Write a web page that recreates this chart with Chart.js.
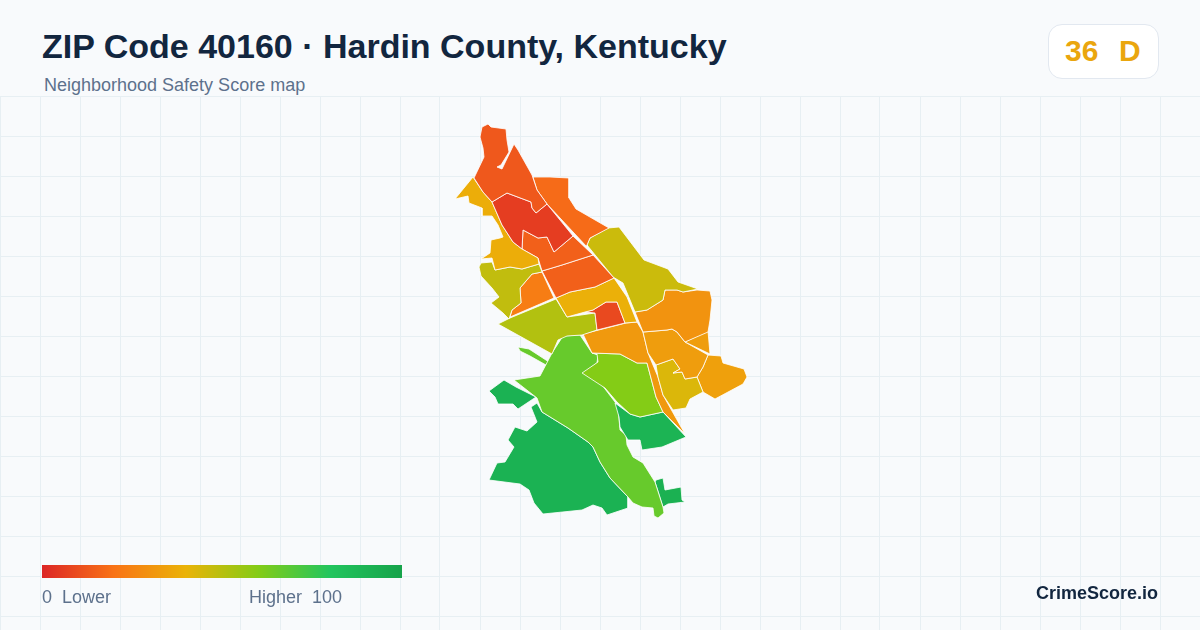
<!DOCTYPE html>
<html>
<head>
<meta charset="utf-8">
<title>ZIP Code 40160 · Hardin County, Kentucky</title>
<script src="https://cdn.jsdelivr.net/npm/chart.js@4"></script>
<style>
  html, body { margin: 0; padding: 0; background: #f8fafc; }
  body { position: relative; width: 1200px; height: 630px; overflow: hidden; font-family: "Liberation Sans", sans-serif; }
  #wrap { position: absolute; left: 0; top: 96px; width: 1200px; height: 534px; }
  .txt { position: absolute; white-space: pre; line-height: 1; }
  #title { left: 42px; top: 29px; font-size: 34px; font-weight: 700; color: #12263f; }
  #sub { left: 44px; top: 76px; font-size: 18px; color: #5d718c; }
  #badge { position: absolute; left: 1048px; top: 24px; width: 109px; height: 53px; background: #fff; border: 1px solid #e2e8f0; border-radius: 14px; }
  #score { left: 1065px; top: 36px; font-size: 30px; font-weight: 700; color: #eaa60e; word-spacing: 2px; }
  #bar { position: absolute; left: 42px; top: 565px; width: 360px; height: 13px; }
  #low { left: 42px; top: 588px; font-size: 18px; color: #5d718c; }
  #high { left: 249px; top: 588px; font-size: 18px; color: #5d718c; }
  #brand { right: 42px; top: 584px; font-size: 18px; font-weight: 700; color: #12263f; }
</style>
</head>
<body>
<div id="wrap"><canvas id="chart" width="1200" height="534"></canvas></div>
<div class="txt" id="title">ZIP Code 40160 · Hardin County, Kentucky</div>
<div class="txt" id="sub">Neighborhood Safety Score map</div>
<div id="badge"></div>
<div class="txt" id="score">36  D</div>
<div id="bar"></div>
<div class="txt" id="low">0  Lower</div>
<div class="txt" id="high">Higher  100</div>
<div class="txt" id="brand">CrimeScore.io</div>
<script>
// colour ramp of the legend
const rampStops = [0, 20, 40, 60, 80, 100]
const rampColors = ['#dc2626', '#f97316', '#eab308', '#84cc16', '#22c55e', '#16a34a']

// grid lines
const gridColumns = [0, 40, 80, 120, 160, 200, 240, 280, 320, 360, 400, 440, 480, 520, 560, 600, 640, 680, 720, 760, 800, 840, 880, 920, 960, 1000, 1040, 1080, 1120, 1160]
const gridRows = [96, 136, 176, 216, 256, 296, 336, 376, 416, 456, 496, 536, 576, 616]

// tract outlines
const northEnd = [[488,124],[491,127],[506,129],[507,140],[509,152],[501,165],[497,167],[502,169],[514,144],[518,150],[532,175],[537,190],[547,204],[536,213],[532,208],[531,202],[507,193],[492,202],[483,192],[474,178],[484,157],[483,148],[480,137],[482,127]]
const northEast = [[533,177],[550,177],[569,178],[569,198],[576,209],[609,228],[590,238],[587,245],[587,247],[547,204],[537,190]]
const redCore = [[492,202],[507,193],[531,202],[532,208],[536,213],[547,204],[573,236],[554,252],[547,237],[538,238],[523,230],[522,249],[513,242],[502,225]]
const westStrip = [[473,177],[455,199],[468,196],[469,203],[482,208],[482,216],[492,216],[498,225],[503,237],[500,238],[491,240],[490,253],[481,259],[492,258],[495,270],[510,267],[522,269],[539,264],[538,258],[522,249],[513,242],[502,225],[492,202],[483,192]]
const westOlive = [[481,263],[492,262],[495,270],[510,267],[522,269],[539,264],[542,272],[532,274],[520,288],[521,303],[512,310],[509,319],[503,313],[491,303],[499,297],[492,288],[481,276],[479,267]]
const westOrange = [[542,272],[554,298],[510,317],[512,310],[521,303],[520,288],[532,274]]
const midNorth = [[523,230],[538,238],[547,237],[554,252],[573,236],[593,255],[562,265],[542,271],[538,258],[522,249]]
const midBlock = [[542,271],[562,265],[593,255],[614,278],[595,287],[570,292],[556,298]]
const midYellow = [[556,298],[570,292],[595,287],[614,278],[627,297],[637,322],[625,323],[617,302],[606,302],[593,310],[585,312],[567,317]]
const redBlock = [[585,312],[593,310],[606,302],[617,302],[625,323],[597,330],[595,313]]
const westLime = [[498,324],[510,318],[556,299],[567,317],[595,313],[597,330],[582,335],[567,336],[558,340],[552,354]]
const eastOlive = [[619,227],[644,260],[668,269],[678,282],[698,289],[683,292],[677,290],[665,290],[663,300],[647,310],[635,312],[623,283],[613,277],[587,245],[590,238],[608,228]]
const eastOrange = [[665,290],[677,290],[683,292],[697,290],[710,291],[712,300],[710,320],[708,332],[685,342],[677,332],[672,329],[667,330],[643,332],[635,312],[647,310],[663,300]]
const eastSliver = [[708,331],[710,354],[685,342]]
const eastCentre = [[643,332],[667,330],[672,329],[677,332],[685,342],[708,355],[703,367],[697,377],[685,379],[682,372],[673,373],[680,369],[673,359],[656,365],[648,353]]
const eastYellow = [[656,365],[673,359],[680,369],[673,373],[682,372],[685,379],[697,377],[703,392],[690,399],[686,408],[673,410],[663,395],[658,377]]
const eastTip = [[708,355],[721,356],[723,363],[744,369],[747,377],[743,384],[715,399],[703,392],[697,377],[703,367]]
const centreStrip = [[583,334],[626,323],[637,322],[643,332],[648,353],[658,377],[663,395],[685,434],[663,412],[656,397],[647,363],[637,363],[620,354],[592,353]]
const centreLime = [[592,353],[620,354],[637,363],[647,363],[656,397],[663,412],[640,417],[630,414],[617,402],[605,388],[582,373],[598,362],[597,354]]
const southEastGreen = [[615,403],[630,414],[640,417],[663,412],[686,437],[662,447],[642,450],[640,440],[628,440],[620,427],[619,417]]
const spine = [[563,336],[580,335],[592,353],[598,355],[597,363],[583,373],[602,385],[615,402],[618,407],[620,430],[626,435],[627,445],[633,457],[643,463],[655,482],[663,507],[664,513],[658,518],[654,516],[653,508],[642,507],[633,503],[628,497],[610,478],[600,462],[593,447],[588,442],[568,428],[542,412],[537,398],[514,380],[540,376],[552,353]]
const westPocket = [[504,380],[516,387],[536,397],[518,409],[513,404],[498,404],[495,397],[489,391]]
const thinStrip = [[518,347],[529,349],[549,362],[546,365],[530,356],[520,351]]
const southGreen = [[537,403],[542,412],[568,428],[588,442],[593,447],[600,462],[610,478],[628,497],[628,508],[607,515],[602,508],[593,505],[582,510],[543,514],[534,503],[529,490],[520,484],[489,480],[497,463],[505,462],[514,447],[508,440],[515,427],[527,431],[537,422],[531,407]]
const southPocket = [[655,482],[656,480],[663,478],[665,490],[681,487],[682,500],[685,502],[668,504],[663,507]]

const tracts = [northEnd, northEast, redCore, westStrip, westOlive, westOrange, midNorth, midBlock, midYellow, redBlock, westLime, eastOlive, eastOrange, eastSliver, eastCentre, eastYellow, eastTip, centreStrip, centreLime, southEastGreen, spine, westPocket, thinStrip, southGreen, southPocket]
const tractScores = [13, 18, 6, 38, 48, 23, 15, 15, 39, 9, 51, 46, 30, 33, 33, 43, 34, 32, 60, 90, 66, 91, 66, 91, 92]

function hexToRgb(hex) {
  return [1, 3, 5].map(i => parseInt(hex.slice(i, i + 2), 16))
}

function scoreColor(score) {
  let i = rampStops.findIndex(stop => score <= stop)
  if (i <= 0) return rampColors[0]
  const t = (score - rampStops[i - 1]) / (rampStops[i] - rampStops[i - 1])
  const from = hexToRgb(rampColors[i - 1])
  const to = hexToRgb(rampColors[i])
  const rgb = from.map((c, k) => Math.round(c + (to[k] - c) * t))
  return `rgb(${rgb.join(',')})`
}

document.getElementById('bar').style.background =
  `linear-gradient(to right, ${rampColors.map((c, i) => `${c} ${rampStops[i]}%`).join(', ')})`

const datasets = tracts.map((outline, idx) => ({
  data: [...outline, outline[0]].map(([x, y]) => ({ x, y })),
  showLine: true,
  fill: 'shape',
  tension: 0,
  pointRadius: 0,
  borderWidth: 0.8,
  borderColor: '#ffffff',
  backgroundColor: scoreColor(tractScores[idx])
}))

const gridLook = { color: '#e7eff3', lineWidth: 1, drawTicks: false }

new Chart(document.getElementById('chart').getContext('2d'), {
  type: 'scatter',
  data: { datasets },
  options: {
    responsive: false,
    animation: false,
    events: [],
    layout: { padding: 0 },
    plugins: { legend: { display: false }, tooltip: { enabled: false } },
    scales: {
      x: {
        type: 'linear',
        min: 0,
        max: 1200,
        grid: gridLook,
        border: { display: false },
        ticks: { display: false },
        afterBuildTicks: scale => { scale.ticks = gridColumns.map(value => ({ value })) }
      },
      y: {
        type: 'linear',
        reverse: true,
        min: 96,
        max: 630,
        grid: gridLook,
        border: { display: false },
        ticks: { display: false },
        afterBuildTicks: scale => { scale.ticks = gridRows.map(value => ({ value })) }
      }
    }
  }
})
</script>
</body>
</html>
